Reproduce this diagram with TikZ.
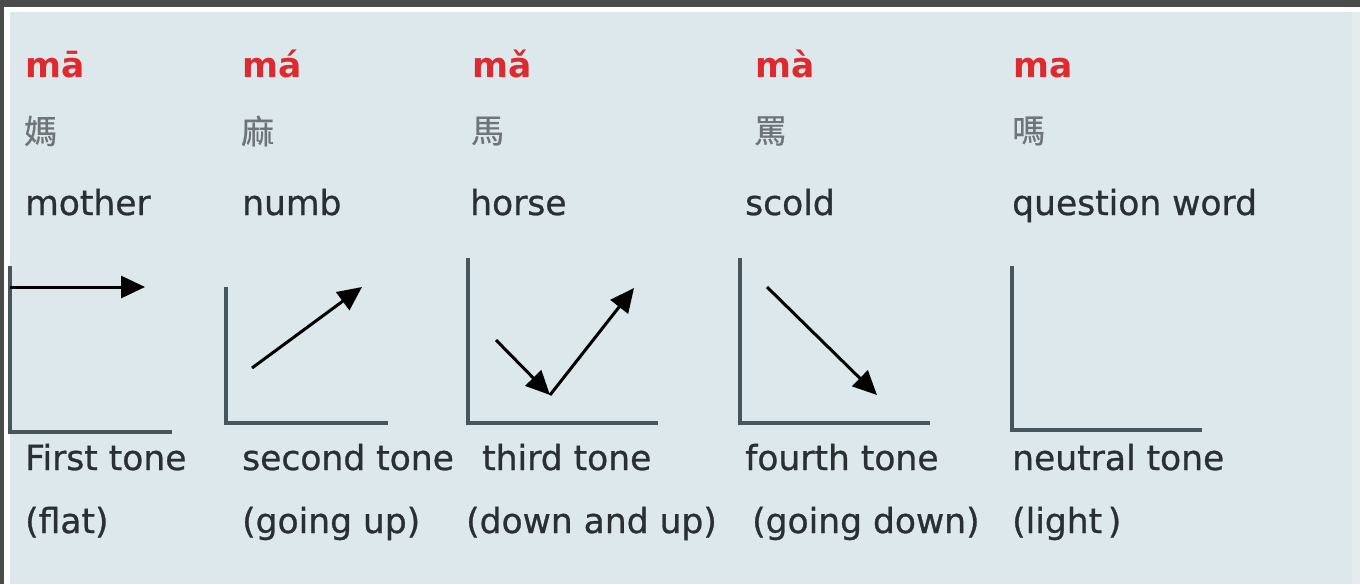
\documentclass[tikz,border=0pt]{standalone}
\usepackage{fontspec}
\setmainfont{DejaVu Sans}
\newfontfamily\wordfont[FakeBold=0.8]{DejaVu Sans}
\newfontfamily\cjk[FakeBold=0.6]{Noto Sans CJK TC}
\usetikzlibrary{arrows.meta}
\definecolor{bgblue}{HTML}{DCE8EC}
\definecolor{frame}{HTML}{4A4A4A}
\definecolor{pyred}{HTML}{DE2A2E}
\definecolor{txt}{HTML}{2A2F33}
\definecolor{hanzi}{HTML}{6E7478}
\definecolor{axis}{HTML}{47565C}
\definecolor{rstrip}{HTML}{E6EBED}
\tikzset{
  pinyin/.style={anchor=base west, inner sep=0pt, text=pyred, font=\fontsize{34.5}{40}\selectfont\bfseries},
  hz/.style={anchor=west, inner sep=0pt, text=hanzi, font=\fontsize{33}{36}\selectfont\cjk},
  word/.style={anchor=base west, inner sep=0pt, text=txt, font=\fontsize{34.5}{40}\selectfont\wordfont},
  axisline/.style={draw=axis, line width=3.2pt},
  tonearrow/.style={draw=black, line width=3pt, -{Triangle[length=24pt,width=22pt]}}
}
\begin{document}
\begin{tikzpicture}[x=1pt,y=-1pt]
\useasboundingbox (0,0) rectangle (1360,584);
\fill[frame] (0,0) rectangle (1360,584);
\fill[white] (4,7) rectangle (1360,584);
\fill[rstrip] (1350,12) rectangle (1360,584);
\fill[bgblue] (10,12) rectangle (1352,584);

% pinyin
\node[pinyin] (p1) at (25,77) {mā};
\node[pinyin] (p2) at (242,77) {má};
\node[pinyin] (p3) at (472,77) {mǎ};
\node[pinyin] (p4) at (755,77) {mà};
\node[pinyin] (p5) at (1013,77) {ma};

% characters
\node[hz] (h1) at (24,131) {媽};
\node[hz] (h2) at (241,131) {麻};
\node[hz] (h3) at (471,131) {馬};
\node[hz] (h4) at (754,131) {罵};
\node[hz] (h5) at (1012,131) {嗎};

% meanings
\node[word] (m1) at (25,215) {mother};
\node[word] (m2) at (242,215) {numb};
\node[word] (m3) at (470,215) {horse};
\node[word] (m4) at (745,215) {scold};
\node[word] (m5) at (1012,215) {question word};

% tone names
\node[word] (t1) at (25,470) {First tone};
\node[word] (t2) at (242,470) {second tone};
\node[word] (t3) at (482,470) {third tone};
\node[word] (t4) at (745,470) {fourth tone};
\node[word] (t5) at (1012,470) {neutral tone};

% descriptions
\node[word] (d1) at (25,533) {(flat)};
\node[word] (d2) at (242,533) {(going up)};
\node[word] (d3) at (466,533) {(down and up)};
\node[word] (d4) at (752,533) {(going down)};
\node[word] (d5) at (1012,533) {(light\,)};

% graph 1
\coordinate (g1t) at (10,266);
\coordinate (g1o) at (10,432);
\coordinate (g1r) at (172,432);
\coordinate (a1s) at (10,287);
\coordinate (a1e) at (145,287);
\draw[axisline] (g1t) -- (g1o) -- (g1r);
\draw[tonearrow] (a1s) -- (a1e);

% graph 2
\coordinate (g2t) at (226,287);
\coordinate (g2o) at (226,423);
\coordinate (g2r) at (388,423);
\coordinate (a2s) at (252,368);
\coordinate (a2e) at (362,287);
\draw[axisline] (g2t) -- (g2o) -- (g2r);
\draw[tonearrow] (a2s) -- (a2e);

% graph 3
\coordinate (g3t) at (468,258);
\coordinate (g3o) at (468,423);
\coordinate (g3r) at (658,423);
\coordinate (a3s) at (496,340);
\coordinate (a3m) at (550,395);
\coordinate (a3e) at (634,288);
\draw[axisline] (g3t) -- (g3o) -- (g3r);
\draw[tonearrow] (a3s) -- (a3m);
\draw[tonearrow] (a3m) -- (a3e);

% graph 4
\coordinate (g4t) at (740,258);
\coordinate (g4o) at (740,423);
\coordinate (g4r) at (930,423);
\coordinate (a4s) at (767,287);
\coordinate (a4e) at (877,395);
\draw[axisline] (g4t) -- (g4o) -- (g4r);
\draw[tonearrow] (a4s) -- (a4e);

% graph 5
\coordinate (g5t) at (1012,266);
\coordinate (g5o) at (1012,430);
\coordinate (g5r) at (1202,430);
\draw[axisline] (g5t) -- (g5o) -- (g5r);
\end{tikzpicture}
\end{document}
